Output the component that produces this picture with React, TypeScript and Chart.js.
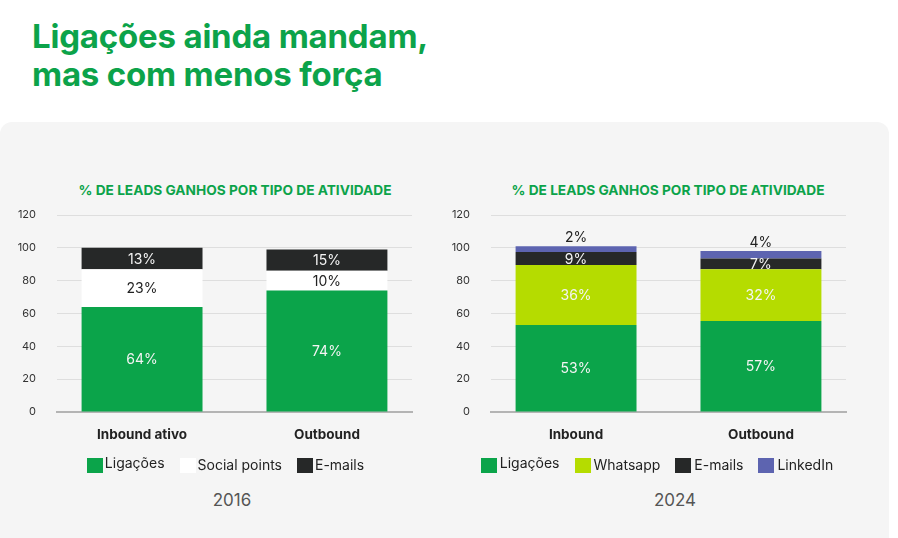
import React, { useEffect, useRef } from "react";
import { Chart, registerables, CategoryScale } from "chart.js";

Chart.register(...registerables);

// Category scale whose outer half-slots can be set (used to spread the two bars slightly)
class SpreadCategoryScale extends (CategoryScale as any) {
  static id = "spreadCategory";
  static defaults = (CategoryScale as any).defaults;
  configure() {
    super.configure();
    const spread = (this as any).options.spread;
    if (typeof spread === "number") {
      (this as any)._startValue = (this as any).min - spread;
      (this as any)._valueRange = (this as any).max - (this as any).min + 2 * spread;
    }
  }
}
Chart.register(SpreadCategoryScale as any);

const FONT = "Inter, 'Noto Sans', 'DejaVu Sans', sans-serif";

// ---- Data ----
const pageTitleLines = ["Ligações ainda mandam,", "mas com menos força"];
const chartTitle = "% DE LEADS GANHOS POR TIPO DE ATIVIDADE";
const yTicks = { min: 0, max: 120, step: 20 };

const categories2016 = ["Inbound ativo", "Outbound"];
const ligacoes2016 = [64, 74];
const socialPoints2016 = [23, 12];
const emails2016 = [13, 13];
const ligacoesLabels2016 = ["64%", "74%"];
const socialPointsLabels2016 = ["23%", "10%"];
const emailsLabels2016 = ["13%", "15%"];
const year2016 = "2016";

const categories2024 = ["Inbound", "Outbound"];
const ligacoes2024 = [53, 55.5];
const whatsapp2024 = [36.5, 31.5];
const emails2024 = [8, 6.5];
const linkedin2024 = [3.5, 4.5];
const ligacoesLabels2024 = ["53%", "57%"];
const whatsappLabels2024 = ["36%", "32%"];
const emailsLabels2024 = ["9%", "7%"];
const linkedinLabels2024 = ["2%", "4%"];
const year2024 = "2024";

// ---- Styles ----
const GREEN = "#0ba44a";
const WHITE = "#ffffff";
const DARK = "#262828";
const LIME = "#b5dc00";
const PURPLE = "#5d64b0";
const TITLE_GREEN = "#0ca34a";

type Series = {
  name: string;
  data: number[];
  labels: string[];
  color: string;
  textColor: string;
  above?: boolean;
};

const series2016: Series[] = [
  { name: "Ligações", data: ligacoes2016, labels: ligacoesLabels2016, color: GREEN, textColor: "#f4f4f4" },
  { name: "Social points", data: socialPoints2016, labels: socialPointsLabels2016, color: WHITE, textColor: "#222222" },
  { name: "E-mails", data: emails2016, labels: emailsLabels2016, color: DARK, textColor: "#f4f4f4" },
];

const series2024: Series[] = [
  { name: "Ligações", data: ligacoes2024, labels: ligacoesLabels2024, color: GREEN, textColor: "#f4f4f4" },
  { name: "Whatsapp", data: whatsapp2024, labels: whatsappLabels2024, color: LIME, textColor: "#f4f4f4" },
  { name: "E-mails", data: emails2024, labels: emailsLabels2024, color: DARK, textColor: "#f4f4f4" },
  { name: "LinkedIn", data: linkedin2024, labels: linkedinLabels2024, color: PURPLE, textColor: "#222222", above: true },
];

type ChartBoxProps = {
  categories: string[];
  series: Series[];
  left: number;
  top: number;
  width: number;
  height: number;
  yAxisWidth: number;
  padRight: number;
};

function StackedChart(props: ChartBoxProps) {
  const ref = useRef<HTMLCanvasElement | null>(null);
  useEffect(() => {
    if (!ref.current) return;
    const { categories, series, yAxisWidth, padRight } = props;
    const labelPlugin = {
      id: "segLabels",
      afterDatasetsDraw(chart: any) {
        const ctx = chart.ctx;
        chart.data.datasets.forEach((_ds: any, i: number) => {
          const meta = chart.getDatasetMeta(i);
          const s = series[i];
          meta.data.forEach((el: any, j: number) => {
            const p = el.getProps(["x", "y", "base"], true);
            ctx.save();
            ctx.font = `400 14px ${FONT}`;
            ctx.fillStyle = s.textColor;
            ctx.textAlign = "center";
            if (s.above) {
              ctx.textBaseline = "bottom";
              ctx.fillText(s.labels[j], p.x, p.y - 1);
            } else {
              ctx.textBaseline = "middle";
              ctx.fillText(s.labels[j], p.x, (p.y + p.base) / 2 + 1);
            }
            ctx.restore();
          });
        });
      },
    };
    const chart = new Chart(ref.current, {
      type: "bar",
      data: {
        labels: categories,
        datasets: series.map((s) => ({
          label: s.name,
          data: s.data,
          backgroundColor: s.color,
          borderWidth: 0,
          categoryPercentage: 0.654,
          barPercentage: 1,
        })),
      },
      options: {
        animation: false,
        responsive: false,
        maintainAspectRatio: false,
        layout: { padding: { top: 15, right: padRight, bottom: 0, left: 0 } },
        plugins: {
          legend: { display: false },
          title: { display: false },
          tooltip: { enabled: false },
        },
        scales: {
          x: {
            type: "spreadCategory",
            spread: 0.46,
            stacked: true,
            grid: { display: false, drawTicks: false },
            border: { display: true, color: "#b4b4b4", width: 2 },
            ticks: {
              color: "#222222",
              font: { family: FONT, size: 13.5, weight: "bold" },
              padding: 15,
            },
            afterFit: (s: any) => {
              s.height = 48;
            },
          },
          y: {
            stacked: true,
            min: yTicks.min,
            max: yTicks.max,
            ticks: {
              stepSize: yTicks.step,
              color: "#333333",
              font: { family: FONT, size: 11 },
              padding: 21,
            },
            grid: {
              drawTicks: false,
              color: (c: any) => (c.tick && c.tick.value === 0 ? "rgba(0,0,0,0)" : "#dedede"),
            },
            border: { display: false },
            afterFit: (s: any) => {
              s.width = yAxisWidth;
              s.paddingTop = 0;
              s.paddingBottom = 0;
            },
          },
        },
      } as any,
      plugins: [labelPlugin],
    });
    return () => chart.destroy();
  }, []);
  return (
    <canvas
      ref={ref}
      width={props.width}
      height={props.height}
      style={{ position: "absolute", left: props.left, top: props.top, width: props.width, height: props.height }}
    />
  );
}

function Legend({ series, center, top, textGap }: { series: Series[]; center: number; top: number; textGap: number }) {
  const w = 420;
  return (
    <div
      style={{
        position: "absolute",
        left: center - w / 2,
        width: w,
        top,
        height: 16,
        display: "flex",
        justifyContent: "center",
        alignItems: "center",
        gap: 15,
        fontFamily: FONT,
        fontSize: 14,
        color: "#222222",
      }}
    >
      {series.map((s) => (
        <div key={s.name} style={{ display: "flex", alignItems: "center" }}>
          <span style={{ display: "inline-block", width: 16, height: 15, background: s.color, marginRight: textGap }} />
          <span style={{ lineHeight: "16px", position: "relative", top: s.name === "Ligações" ? -2 : 0 }}>{s.name}</span>
        </div>
      ))}
    </div>
  );
}

function CenterText({ text, center, top, size, color, weight, lineHeight }: any) {
  const w = 440;
  return (
    <div
      style={{
        position: "absolute",
        left: center - w / 2,
        width: w,
        top,
        textAlign: "center",
        fontFamily: FONT,
        fontSize: size,
        fontWeight: weight,
        color,
        lineHeight: `${lineHeight}px`,
        whiteSpace: "nowrap",
      }}
    >
      {text}
    </div>
  );
}

export default function App() {
  return (
    <div
      style={{
        position: "absolute",
        left: 0,
        top: 0,
        width: 898,
        height: 538,
        background: "#ffffff",
        overflow: "hidden",
        fontFamily: FONT,
      }}
    >
      <div
        style={{
          position: "absolute",
          left: 32,
          top: 17,
          fontSize: 33,
          fontWeight: 700,
          lineHeight: "38px",
          color: TITLE_GREEN,
          letterSpacing: "-0.2px",
          whiteSpace: "nowrap",
        }}
      >
        {pageTitleLines.map((l) => (
          <div key={l}>{l}</div>
        ))}
      </div>
      <div
        style={{
          position: "absolute",
          left: 0,
          top: 122,
          width: 889,
          height: 440,
          background: "#f5f5f5",
          borderRadius: 12,
        }}
      />
      <CenterText text={chartTitle} center={235} top={182} size={13.7} color={TITLE_GREEN} weight={700} lineHeight={17} />
      <CenterText text={chartTitle} center={668} top={182} size={13.7} color={TITLE_GREEN} weight={700} lineHeight={17} />

      <StackedChart categories={categories2016} series={series2016} left={0} top={200} width={420} height={260} yAxisWidth={57} padRight={8} />
      <StackedChart categories={categories2024} series={series2024} left={440} top={200} width={420} height={260} yAxisWidth={51} padRight={14} />

      <Legend series={series2016} center={225.5} top={457} textGap={2} />
      <Legend series={series2024} center={657} top={457} textGap={3} />

      <CenterText text={year2016} center={232} top={490} size={17} color="#555555" weight={400} lineHeight={20} />
      <CenterText text={year2024} center={675} top={490} size={17} color="#555555" weight={400} lineHeight={20} />
    </div>
  );
}
